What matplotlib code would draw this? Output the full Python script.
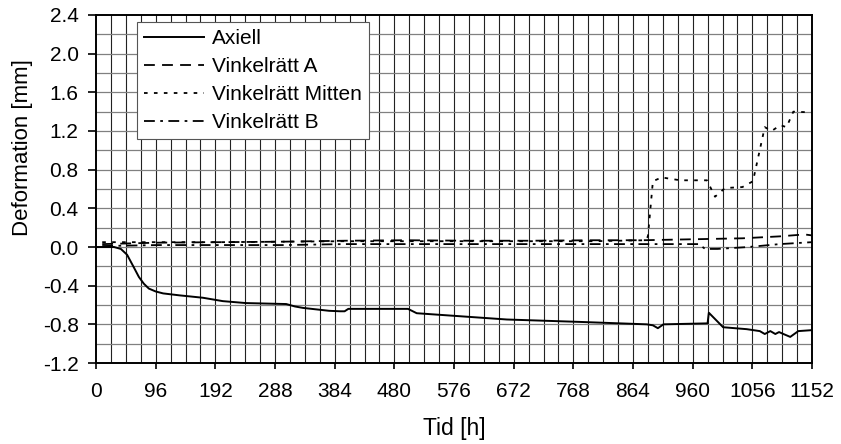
import matplotlib
matplotlib.use("Agg")
import matplotlib.pyplot as plt
import numpy as np

plt.rcParams['font.family'] = ['Liberation Sans', 'DejaVu Sans']

# Axiell (solid)
t_ax = [0, 29, 40, 50, 60, 69, 77, 85, 96, 108, 134, 172, 204, 241, 306, 320, 333, 375, 393,
        400, 406, 502, 516, 661, 779, 886, 896, 904, 913, 984, 986, 1009, 1047, 1068, 1076,
        1085, 1093, 1099, 1106, 1117, 1130, 1152]
v_ax = [0.0, 0.0, -0.02, -0.08, -0.20, -0.31, -0.38, -0.43, -0.46, -0.48, -0.50, -0.525,
        -0.56, -0.58, -0.59, -0.615, -0.63, -0.66, -0.665, -0.665, -0.64, -0.64, -0.685,
        -0.75, -0.775, -0.80, -0.81, -0.84, -0.80, -0.79, -0.68, -0.83, -0.85, -0.87, -0.90,
        -0.87, -0.90, -0.88, -0.90, -0.93, -0.87, -0.86]

# Vinkelrätt A (dashed)
t_a = [10, 100, 200, 300, 400, 500, 600, 700, 800, 880, 960, 1040, 1100, 1140, 1152]
v_a = [0.03, 0.045, 0.05, 0.055, 0.065, 0.07, 0.065, 0.065, 0.07, 0.07, 0.08, 0.09, 0.11, 0.13, 0.12]

# Vinkelrätt Mitten (dotted)
t_m = [10, 200, 400, 600, 800, 884, 888, 896, 910, 940, 983, 996, 1012, 1040, 1057, 1076,
       1087, 1101, 1111, 1122, 1141, 1152]
v_m = [0.05, 0.05, 0.06, 0.06, 0.06, 0.07, 0.11, 0.68, 0.72, 0.69, 0.69, 0.52, 0.61, 0.62,
       0.68, 1.24, 1.20, 1.26, 1.24, 1.40, 1.395, 1.39]

# Vinkelrätt B (dash-dot)
t_b = [10, 100, 200, 300, 400, 500, 600, 700, 800, 900, 970, 980, 1000, 1050, 1100, 1152]
v_b = [0.01, 0.02, 0.02, 0.02, 0.03, 0.03, 0.03, 0.03, 0.03, 0.03, 0.03, -0.02, -0.02, 0.0, 0.03, 0.05]

fig = plt.figure(figsize=(8.41, 4.44), dpi=100)
ax = fig.add_axes([96 / 841, 1 - 363 / 444, 716 / 841, 348 / 444])

# grid
for x in np.arange(24, 1152, 24):
    ax.axvline(x, color='#222222', lw=0.8, zorder=0)
for y in np.arange(-1.0, 2.4, 0.2):
    ax.axhline(y, color='#808080', lw=0.9, zorder=0)

ax.plot(t_ax, v_ax, color='black', lw=1.4, ls='-', label='Axiell')
ax.plot(t_a, v_a, color='black', lw=1.3, ls=(0, (6, 4)), label='Vinkelrätt A')
ax.plot(t_m, v_m, color='black', lw=1.3, ls=(0, (2, 3.5)), label='Vinkelrätt Mitten')
ax.plot(t_b, v_b, color='black', lw=1.3, ls=(0, (6, 3, 1.5, 3)), label='Vinkelrätt B')

ax.set_xlim(0, 1152)
ax.set_ylim(-1.2, 2.4)
ax.set_xticks(np.arange(0, 1153, 96))
ax.set_yticks(np.arange(-1.2, 2.41, 0.4))
ax.set_yticklabels([f"{v:.1f}" for v in np.arange(-1.2, 2.41, 0.4)])
ax.tick_params(direction='out', width=1.2, labelsize=15)
ax.tick_params(axis='x', length=4, pad=10)
ax.tick_params(axis='y', length=5.5, pad=7)
for s in ax.spines.values():
    s.set_linewidth(1.4)

ax.set_xlabel('Tid [h]', fontsize=16.5)
ax.set_ylabel('Deformation [mm]', fontsize=16)
ax.xaxis.set_label_coords(0.5, -0.155)
ax.yaxis.set_label_coords(-0.088, 0.618)

leg = ax.legend(loc='upper left', bbox_to_anchor=(41 / 716, 1 - 7 / 348), fontsize=15,
                frameon=True, fancybox=False, framealpha=1, edgecolor='#555555',
                handlelength=2.85, handletextpad=0.4, borderpad=0.35, labelspacing=0.43,
                borderaxespad=0)
leg.get_frame().set_linewidth(0.8)

plt.savefig('out.png', dpi=100)
